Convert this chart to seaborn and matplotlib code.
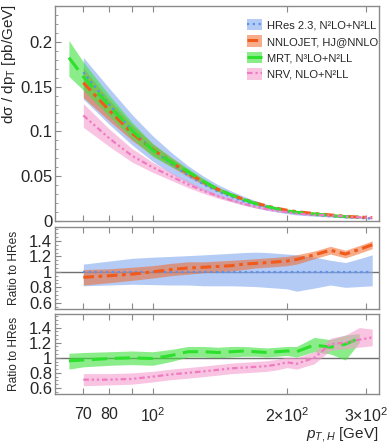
import matplotlib
matplotlib.use("Agg")
import matplotlib.pyplot as plt
import numpy as np
import pandas as pd
import seaborn as sns
from matplotlib.lines import Line2D
from matplotlib.patches import Patch
from matplotlib.ticker import FixedLocator, MultipleLocator, NullFormatter, NullLocator

# pT grid (GeV) shared by all predictions; NaN where a prediction has no bin
PT = [65, 70, 80, 90, 100, 110, 120, 130, 140, 150, 160, 170, 180, 190, 200, 210, 230, 250, 270, 290, 310]
nan = np.nan

# HRes central value [pb/GeV] (65 GeV entry only used as reference for MRT ratio)
HRES_XS = [0.190, 0.166, 0.130, 0.101, 0.080, 0.064, 0.051, 0.041, 0.033, 0.027, 0.022,
           0.018, 0.015, 0.0125, 0.0105, 0.009, 0.0068, 0.0053, 0.0042, 0.0034, 0.0028]

# everything below is ratio to HRes central
HRES_HI = [nan, 1.10, 1.14, 1.175, 1.19, 1.20, 1.21, 1.22, 1.23, 1.24, 1.25, 1.255, 1.25, 1.24, 1.23, 1.22, 1.19, 1.15, 1.12, 1.17, 1.22]
HRES_LO = [nan, 0.82, 0.83, 0.84, 0.835, 0.83, 0.83, 0.82, 0.82, 0.82, 0.815, 0.81, 0.80, 0.79, 0.78, 0.75, 0.79, 0.83, 0.80, 0.81, 0.82]

NNLOJET = [nan, 0.93, 0.95, 0.97, 1.00, 1.03, 1.05, 1.06, 1.07, 1.08, 1.10, 1.11, 1.12, 1.13, 1.14, 1.16, 1.22, 1.28, 1.23, 1.29, 1.35]
NNLOJET_HI = [nan, 1.03, 1.04, 1.06, 1.08, 1.11, 1.13, 1.13, 1.14, 1.15, 1.16, 1.17, 1.18, 1.19, 1.20, 1.22, 1.27, 1.33, 1.28, 1.34, 1.40]
NNLOJET_LO = [nan, 0.83, 0.86, 0.89, 0.92, 0.95, 0.97, 0.99, 1.00, 1.01, 1.03, 1.05, 1.06, 1.07, 1.08, 1.10, 1.17, 1.23, 1.18, 1.24, 1.30]

MRT = [0.96, 0.97, 0.99, 1.00, 0.99, 1.03, 1.08, 1.08, 1.07, 1.08, 1.09, 1.08, 1.07, 1.08, 1.09, 1.08, 1.17, 1.14, 1.18, 1.26, nan]
MRT_HI = [1.06, 1.07, 1.08, 1.09, 1.08, 1.11, 1.15, 1.15, 1.14, 1.15, 1.15, 1.14, 1.13, 1.14, 1.15, 1.15, 1.27, 1.24, 1.30, 1.32, nan]
MRT_LO = [0.85, 0.88, 0.90, 0.91, 0.90, 0.95, 1.01, 1.01, 1.00, 1.01, 1.02, 1.02, 1.01, 1.02, 1.03, 1.01, 1.08, 1.05, 0.97, 1.20, nan]

NRV = [nan, 0.71, 0.71, 0.72, 0.75, 0.78, 0.80, 0.82, 0.84, 0.86, 0.87, 0.88, 0.89, 0.91, 0.94, 0.92, 1.00, 1.18, 1.20, 1.24, 1.27]
NRV_HI = [nan, 0.79, 0.79, 0.80, 0.82, 0.85, 0.87, 0.89, 0.91, 0.93, 0.94, 0.95, 0.96, 0.98, 1.01, 1.00, 1.08, 1.26, 1.30, 1.40, 1.38]
NRV_LO = [nan, 0.63, 0.64, 0.65, 0.68, 0.71, 0.73, 0.75, 0.77, 0.79, 0.80, 0.81, 0.82, 0.84, 0.87, 0.85, 0.92, 1.10, 1.12, 1.14, 1.16]

HRES_ONE = [nan] + [1.0] * (len(PT) - 1)

LABELS = ["HRes 2.3, N²LO+N²LL", "NNLOJET, HJ@NNLO", "MRT, N³LO+N²LL", "NRV, NLO+N²LL"]

# (ratio, hi, lo, band colour, band alpha, line colour, linestyle, lw)
SERIES = [
    (HRES_ONE, HRES_HI, HRES_LO, "#86acf2", 0.62, "#5b8ff0", (0, (1, 1.6)), 1.6),
    (NNLOJET, NNLOJET_HI, NNLOJET_LO, "#f26a2a", 0.55, "#f05a1c", (0, (3.5, 1.5, 1.2, 1.5)), 2.2),
    (MRT, MRT_HI, MRT_LO, "#3ee23a", 0.6, "#2ee02e", (0, (5, 2.5)), 2.2),
    (NRV, NRV_HI, NRV_LO, "#f69bd0", 0.6, "#f07ac0", (0, (2.5, 1.3, 1, 1.3, 1, 1.3)), 1.6),
]

sns.set_style("ticks")
plt.rcParams["font.family"] = ["Liberation Sans", "DejaVu Sans"]
plt.rcParams["mathtext.fontset"] = "custom"
plt.rcParams["mathtext.rm"] = "Liberation Sans"
plt.rcParams["mathtext.it"] = "Liberation Sans:italic"

FRAME = "#8a8a8a"
W, H = 390, 444
fig = plt.figure(figsize=(W / 100, H / 100), dpi=100)


def axes_px(left, top, right, bottom):
    return fig.add_axes([left / W, 1 - bottom / H, (right - left) / W, (bottom - top) / H])


ax_top = axes_px(55, 6, 379, 221)
ax_mid = axes_px(55, 227, 379, 309)
ax_bot = axes_px(55, 314, 379, 394)

pt = np.array(PT, dtype=float)
ref = np.array(HRES_XS)


def draw(ax, idx, scale):
    ratio, hi, lo, bcol, balpha, lcol, ls, lw = SERIES[idx]
    hi = np.array(hi) * scale
    lo = np.array(lo) * scale
    cen = np.array(ratio) * scale
    ok = ~np.isnan(hi)
    ax.fill_between(pt[ok], lo[ok], hi[ok], color=bcol, alpha=balpha, lw=0)
    df = pd.DataFrame({"pt": pt, "y": cen}).dropna()
    sns.lineplot(data=df, x="pt", y="y", ax=ax, color=lcol, linestyle=ls, lw=lw,
                 estimator=None, sort=True)


for i in range(4):
    draw(ax_top, i, ref)
for i in (0, 1):
    draw(ax_mid, i, 1.0)
for i in (2, 3):
    draw(ax_bot, i, 1.0)

for ax in (ax_mid, ax_bot):
    ax.axhline(1.0, color="#707070", lw=1.0, zorder=0.5)

for ax in (ax_top, ax_mid, ax_bot):
    ax.set_xscale("log")
    ax.set_xlim(60.5, 321)
    ax.xaxis.set_major_locator(FixedLocator([70, 80, 90, 100, 200, 300]))
    ax.xaxis.set_minor_locator(NullLocator())
    ax.xaxis.set_minor_formatter(NullFormatter())
    ax.tick_params(axis="both", which="both", direction="in", top=True, right=False,
                   color=FRAME, labelsize=12, pad=2)
    ax.tick_params(axis="both", which="major", length=4.5, width=0.8)
    ax.tick_params(axis="both", which="minor", length=2.5, width=0.6)
    for s in ax.spines.values():
        s.set_color(FRAME)
        s.set_linewidth(1.0)
    ax.set_xlabel("")
    ax.set_ylabel("")
    if ax is not ax_bot:
        ax.set_xticklabels([])

ax_bot.set_xticklabels(["70", "80", "", r"$\mathregular{10^2}$",
                        r"$\mathregular{2{\times}10^2}$", r"$\mathregular{3{\times}10^2}$"])
ax_bot.tick_params(axis="x", pad=9, labelsize=11.5)

ax_top.set_ylim(0, 0.24)
ax_top.set_yticks([0, 0.05, 0.1, 0.15, 0.2])
ax_top.set_yticklabels(["0", "0.05", "0.1", "0.15", "0.2"])
ax_top.yaxis.set_minor_locator(MultipleLocator(0.01))

for ax in (ax_mid, ax_bot):
    ax.set_ylim(0.52, 1.58)
    ax.set_yticks([0.6, 0.8, 1.0, 1.2, 1.4])
    ax.set_yticklabels(["0.6", "0.8", "1", "1.2", "1.4"])
    ax.yaxis.set_minor_locator(MultipleLocator(0.05))
    ax.set_ylabel("Ratio to HRes", fontsize=8.6)
    ax.yaxis.set_label_coords(-0.108, 0.5)

ax_top.set_ylabel(r"dσ / dp$_\mathregular{T}$ [pb/GeV]", fontsize=11)
ax_top.yaxis.set_label_coords(-0.115, 0.73)

fig.text(378 / W, 1 - 434 / H, r"$p_{T,H}$ [GeV]", ha="right", va="center", fontsize=11)

handles = []
for ratio, hi, lo, bcol, balpha, lcol, ls, lw in SERIES:
    handles.append((Patch(facecolor=bcol, alpha=balpha, lw=0),
                    Line2D([], [], color=lcol, linestyle=ls, lw=lw)))
ax_top.legend(handles, LABELS, loc="upper left", bbox_to_anchor=(0.594, 0.94),
              frameon=False, fontsize=8, handlelength=1.3, handleheight=1.2,
              handletextpad=0.45, labelspacing=0.45, borderpad=0, borderaxespad=0)

fig.savefig("out.png", dpi=100)
